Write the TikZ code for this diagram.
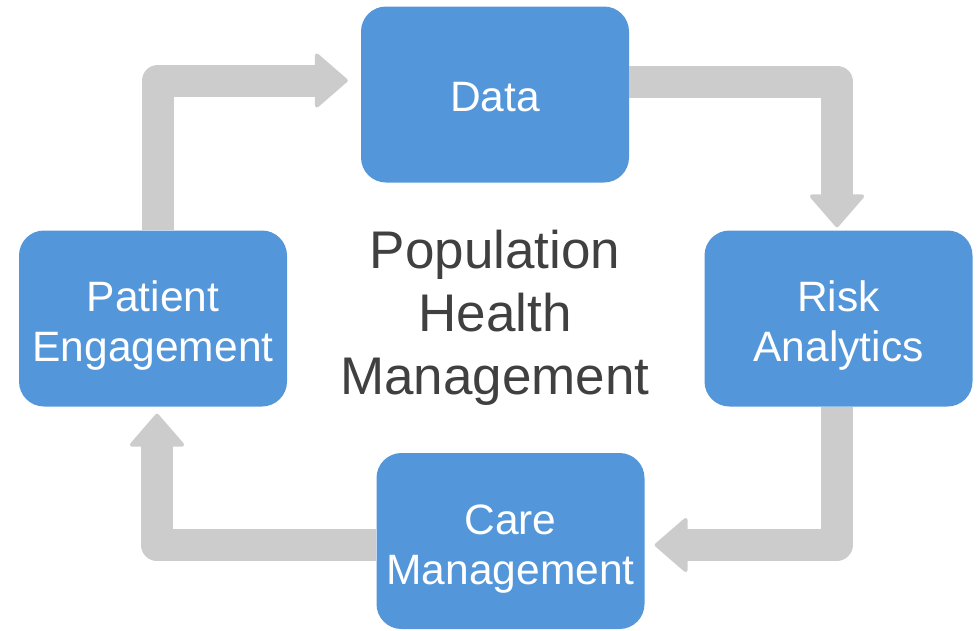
\documentclass[tikz,border=0pt]{standalone}
\usepackage{fontspec}
\setmainfont{Liberation Sans}
\usepackage{tikz}
\usetikzlibrary{arrows.meta,positioning}

\definecolor{boxblue}{HTML}{5396DA}
\definecolor{flowgray}{HTML}{CCCCCC}
\definecolor{textgray}{HTML}{404040}
\newcommand{\topstrut}[1]{\rule{0pt}{#1}}

\begin{document}
\begin{tikzpicture}[x=1pt,y=-1pt,
    stage/.style={rectangle, rounded corners=25pt, fill=boxblue, text=white,
      minimum width=268pt, minimum height=176pt, inner sep=0pt, align=center,
      font=\fontsize{42.5}{50}\selectfont},
    flow/.style={draw=flowgray, line width=32pt, line join=round,
      -{Triangle[length=34pt,width=58pt,round,line width=4pt]}}]
      \useasboundingbox (0,0) rectangle (980,630);
      \node[stage] (data) at (495,94.5) {\topstrut{34pt}Data};
      \node[stage] (risk) at (838.5,318.5) {\topstrut{45pt}Risk\\Analytics};
      \node[stage] (care) at (510.5,541) {\topstrut{45pt}Care\\Management};
      \node[stage] (engage) at (153,318.5) {\topstrut{45pt}Patient\\Engagement};
      \node[text=textgray, align=center, font=\fontsize{53}{63}\selectfont] (phm) at (495,318) {Population\\Health\\Management};
      % cycle arrows
      \draw[flow, shorten >=13pt] ([xshift=5pt]engage.north) |- ([yshift=14pt]data.west);
      \draw[flow, shorten >=3pt] ([yshift=13pt]data.east) -| ([xshift=-1.5pt]risk.north);
      \draw[flow, shorten >=10pt] ([xshift=-2pt]risk.south) |- ([yshift=-4pt]care.east);
      \draw[flow, shorten >=7pt] ([yshift=-4pt]care.west) -| ([xshift=4pt]engage.south);
\end{tikzpicture}
\end{document}
